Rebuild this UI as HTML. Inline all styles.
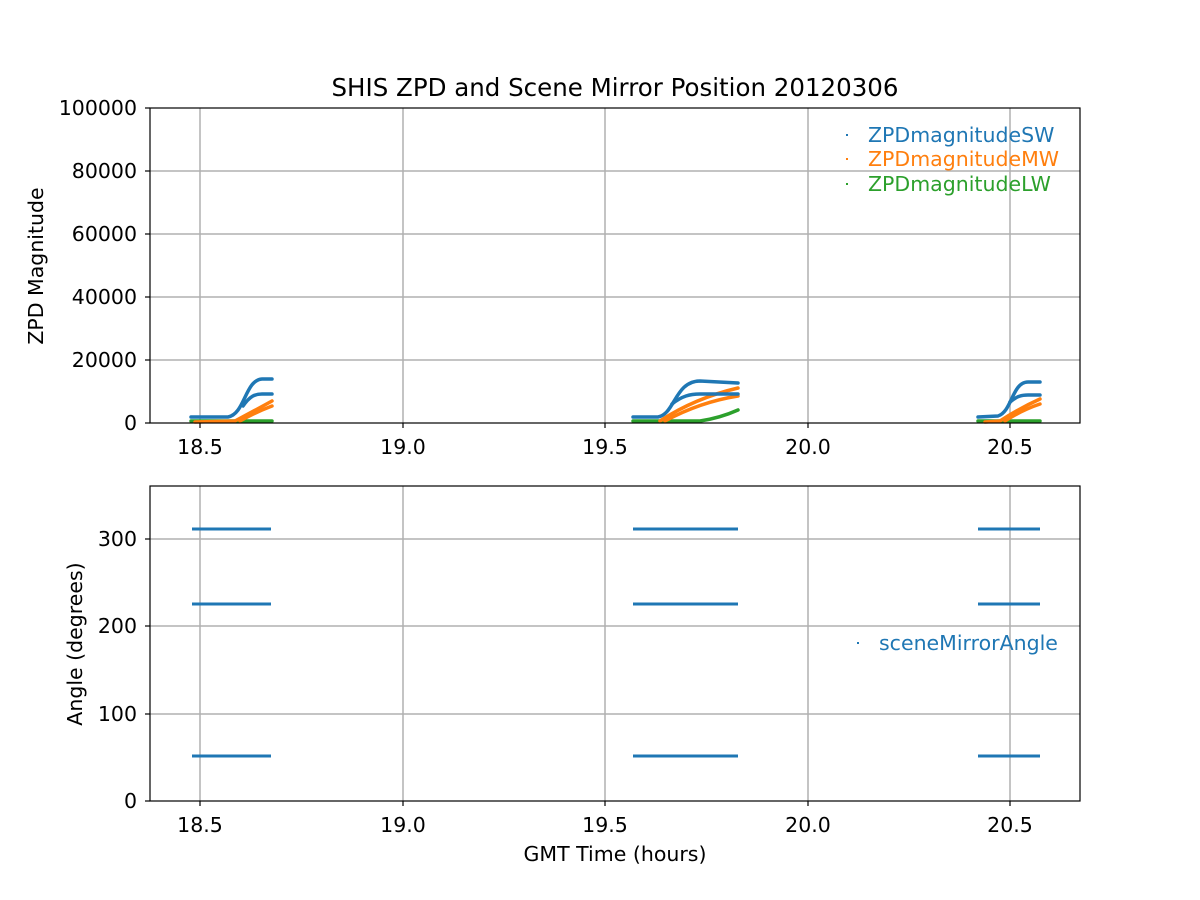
<!DOCTYPE html>
<html><head><meta charset="utf-8"><style>body{margin:0;background:#fff}svg{display:block}text{font-family:"DejaVu Sans","Liberation Sans",sans-serif}</style></head><body>
<svg width="1200" height="900" xmlns="http://www.w3.org/2000/svg">
<rect width="1200" height="900" fill="#fff"/>
<g stroke="#b0b0b0" stroke-width="1.5">
<line x1="200" y1="108" x2="200" y2="423"/><line x1="403" y1="108" x2="403" y2="423"/><line x1="605" y1="108" x2="605" y2="423"/><line x1="808" y1="108" x2="808" y2="423"/><line x1="1010" y1="108" x2="1010" y2="423"/>
<line x1="150" y1="171" x2="1080" y2="171"/><line x1="150" y1="234" x2="1080" y2="234"/><line x1="150" y1="297" x2="1080" y2="297"/><line x1="150" y1="360" x2="1080" y2="360"/>
<line x1="200" y1="486" x2="200" y2="801"/><line x1="403" y1="486" x2="403" y2="801"/><line x1="605" y1="486" x2="605" y2="801"/><line x1="808" y1="486" x2="808" y2="801"/><line x1="1010" y1="486" x2="1010" y2="801"/>
<line x1="150" y1="714" x2="1080" y2="714"/><line x1="150" y1="626" x2="1080" y2="626"/><line x1="150" y1="539" x2="1080" y2="539"/>
</g>
<g fill="none" stroke-width="3.5" stroke-linejoin="round" stroke-linecap="round">
<polyline stroke="#2ca02c" points="191,421 272,421"/>
<path stroke="#ff7f0e" d="M195,422 L235,421 Q252,412 272,401"/>
<path stroke="#ff7f0e" d="M240,421 Q256,412 272,406"/>
<path stroke="#1f77b4" d="M191,417 L228,417 C245,414 245,380 262,379 L272,379"/>
<path stroke="#1f77b4" d="M243,406 C250,396 255,394 262,394 L272,394"/>
<path stroke="#2ca02c" d="M633,421 L700,421 Q720,418 738,410"/>
<path stroke="#ff7f0e" d="M660,421 Q695,398 738,388"/>
<path stroke="#ff7f0e" d="M665,421 Q700,402 738,396"/>
<path stroke="#1f77b4" d="M633,417 L658,417 C675,414 675,381 700,381 L738,383"/>
<path stroke="#1f77b4" d="M672,404 C682,396 690,394 700,394 L738,394"/>
<polyline stroke="#2ca02c" points="978,421 1040,421"/>
<path stroke="#ff7f0e" d="M985,422 L1000,421 Q1020,408 1040,399"/>
<path stroke="#ff7f0e" d="M1005,421 Q1022,410 1040,404"/>
<path stroke="#1f77b4" d="M978,417 L998,416 C1012,412 1012,382 1028,382 L1040,382"/>
<path stroke="#1f77b4" d="M1010,402 C1017,396 1022,395 1028,395 L1040,395"/>
</g>
<g stroke="#1f77b4" stroke-width="3">
<line x1="192" y1="529" x2="271" y2="529"/><line x1="192" y1="604" x2="271" y2="604"/><line x1="192" y1="756" x2="271" y2="756"/>
<line x1="633" y1="529" x2="738" y2="529"/><line x1="633" y1="604" x2="738" y2="604"/><line x1="633" y1="756" x2="738" y2="756"/>
<line x1="978" y1="529" x2="1040" y2="529"/><line x1="978" y1="604" x2="1040" y2="604"/><line x1="978" y1="756" x2="1040" y2="756"/>
</g>
<g fill="none" stroke="#000" stroke-width="1.2">
<rect x="150" y="108" width="930" height="315"/><rect x="150" y="486" width="930" height="315"/>
</g>
<g stroke="#000" stroke-width="1.2">
<line x1="200" y1="423" x2="200" y2="428"/><line x1="403" y1="423" x2="403" y2="428"/><line x1="605" y1="423" x2="605" y2="428"/><line x1="808" y1="423" x2="808" y2="428"/><line x1="1010" y1="423" x2="1010" y2="428"/>
<line x1="200" y1="801" x2="200" y2="806"/><line x1="403" y1="801" x2="403" y2="806"/><line x1="605" y1="801" x2="605" y2="806"/><line x1="808" y1="801" x2="808" y2="806"/><line x1="1010" y1="801" x2="1010" y2="806"/>
<line x1="145" y1="108" x2="150" y2="108"/><line x1="145" y1="171" x2="150" y2="171"/><line x1="145" y1="234" x2="150" y2="234"/><line x1="145" y1="297" x2="150" y2="297"/><line x1="145" y1="360" x2="150" y2="360"/><line x1="145" y1="423" x2="150" y2="423"/>
<line x1="145" y1="801" x2="150" y2="801"/><line x1="145" y1="714" x2="150" y2="714"/><line x1="145" y1="626" x2="150" y2="626"/><line x1="145" y1="539" x2="150" y2="539"/>
</g>
<g font-size="20.5" fill="#000" text-anchor="middle">
<text x="200" y="454">18.5</text><text x="403" y="454">19.0</text><text x="605" y="454">19.5</text><text x="808" y="454">20.0</text><text x="1010" y="454">20.5</text>
<text x="200" y="832">18.5</text><text x="403" y="832">19.0</text><text x="605" y="832">19.5</text><text x="808" y="832">20.0</text><text x="1010" y="832">20.5</text>
<text x="615" y="861">GMT Time (hours)</text>
<text x="615" y="96" font-size="24.5">SHIS ZPD and Scene Mirror Position 20120306</text>
</g>
<g font-size="20.5" fill="#000" text-anchor="end">
<text x="137" y="115">100000</text><text x="137" y="178">80000</text><text x="137" y="241">60000</text><text x="137" y="304">40000</text><text x="137" y="367">20000</text><text x="137" y="430">0</text>
<text x="137" y="546">300</text><text x="137" y="633">200</text><text x="137" y="721">100</text><text x="137" y="808">0</text>
</g>
<text transform="translate(43,266) rotate(-90)" font-size="20.5" text-anchor="middle">ZPD Magnitude</text>
<text transform="translate(82,644) rotate(-90)" font-size="20.5" text-anchor="middle">Angle (degrees)</text>
<g font-size="20.5">
<rect x="846" y="134" width="2" height="2" fill="#1f77b4"/><text x="868" y="142" fill="#1f77b4">ZPDmagnitudeSW</text>
<rect x="846" y="158" width="2" height="2" fill="#ff7f0e"/><text x="868" y="166" fill="#ff7f0e">ZPDmagnitudeMW</text>
<rect x="846" y="183" width="2" height="2" fill="#2ca02c"/><text x="868" y="191" fill="#2ca02c">ZPDmagnitudeLW</text>
<rect x="857" y="642" width="2" height="2" fill="#1f77b4"/><text x="879" y="650" fill="#1f77b4">sceneMirrorAngle</text>
</g>
</svg>
</body></html>
